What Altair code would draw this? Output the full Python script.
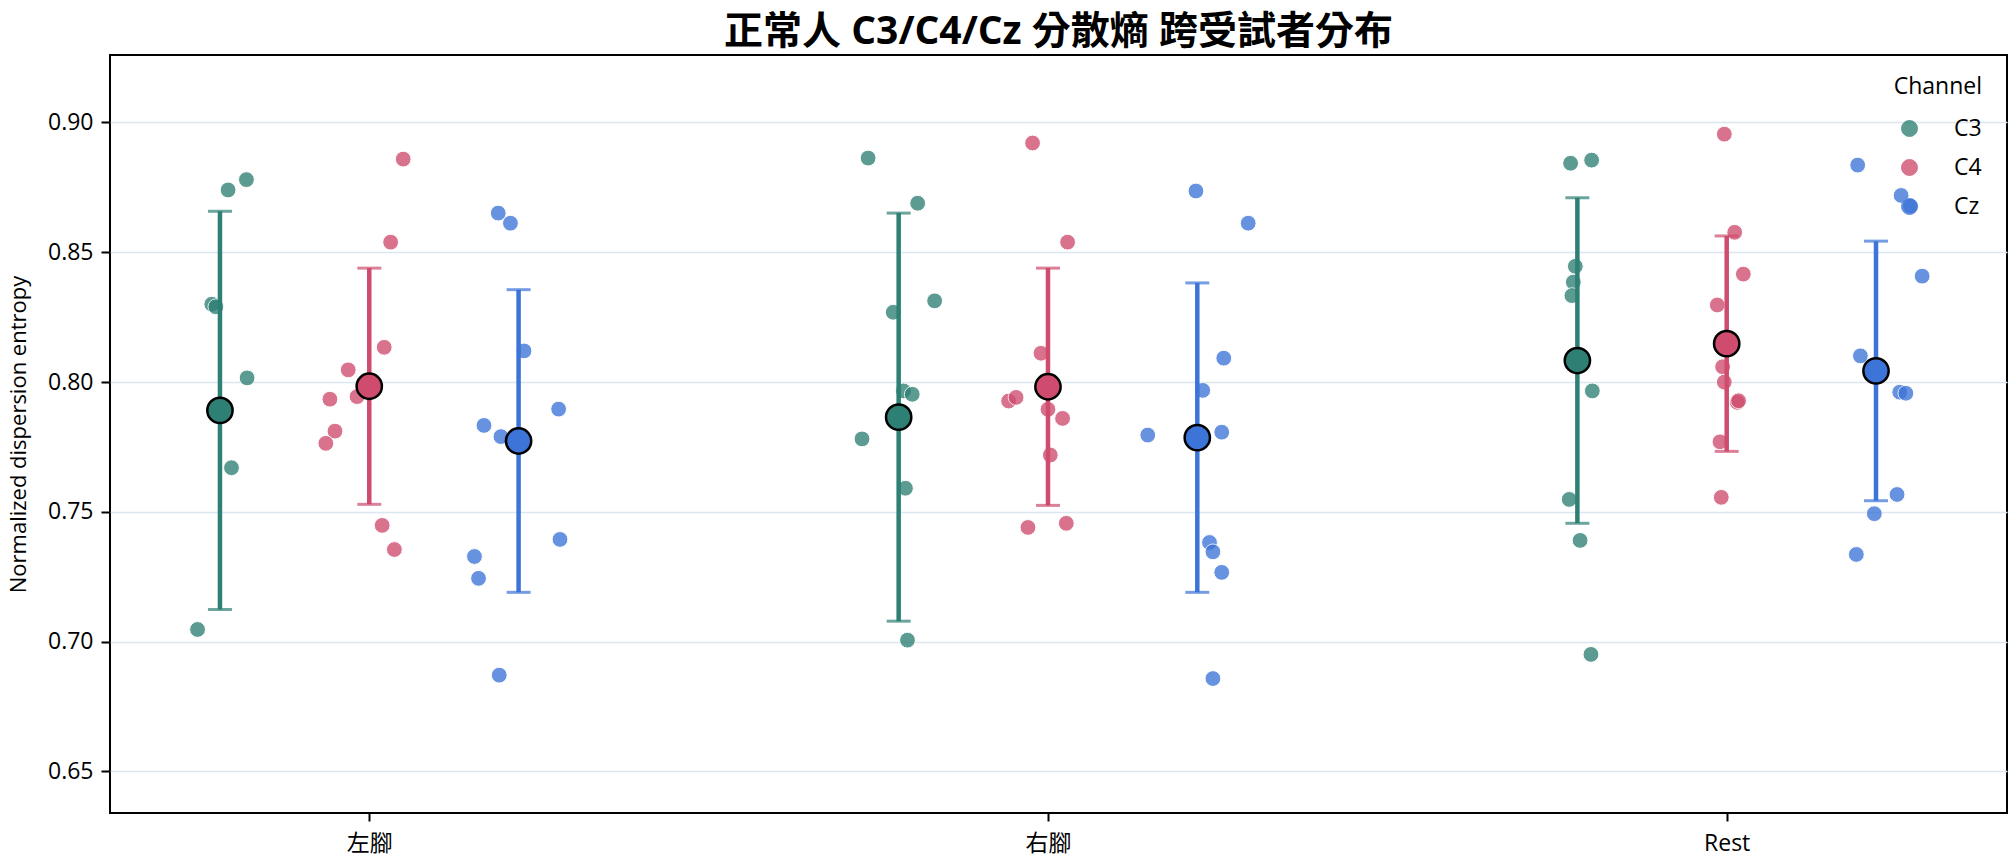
import altair as alt
import pandas as pd

# ---------------- data ----------------
conditions = ["左腳", "右腳", "Rest"]
channels = ["C3", "C4", "Cz"]
channel_offsets = [-0.22, 0.0, 0.22]
colors = ["#2E7F74", "#CF4C6E", "#3C74D8"]

# per-subject values (and their horizontal jitter around the channel position)
left_c3_values = [0.874, 0.878, 0.830, 0.829, 0.8016, 0.767, 0.7047]
left_c3_jitter = [0.012, 0.039, -0.012, -0.006, 0.040, 0.017, -0.033]
left_c4_values = [0.8859, 0.8539, 0.8134, 0.8047, 0.7934, 0.7944, 0.7811, 0.7764, 0.7448, 0.7355]
left_c4_jitter = [0.050, 0.0315, 0.022, -0.031, -0.058, -0.018, -0.0505, -0.064, 0.019, 0.037]
left_cz_values = [0.8651, 0.8612, 0.812, 0.7896, 0.7833, 0.7790, 0.7328, 0.7244, 0.7394, 0.6871]
left_cz_jitter = [-0.030, -0.012, 0.008, 0.059, -0.051, -0.026, -0.065, -0.059, 0.061, -0.0285]

right_c3_values = [0.8863, 0.8689, 0.8313, 0.8269, 0.7966, 0.7953, 0.7781, 0.7591, 0.7006]
right_c3_jitter = [-0.045, 0.028, 0.053, -0.008, 0.007, 0.020, -0.054, 0.010, 0.013]
right_c4_values = [0.8921, 0.8539, 0.8111, 0.7927, 0.7941, 0.7895, 0.7860, 0.7719, 0.7440, 0.7456]
right_c4_jitter = [-0.0227, 0.0289, -0.0103, -0.058, -0.047, 0.0, 0.0215, 0.0034, -0.0295, 0.027]
right_cz_values = [0.8736, 0.8612, 0.8092, 0.7968, 0.7796, 0.7807, 0.7382, 0.7346, 0.7267, 0.6858]
right_cz_jitter = [-0.002, 0.075, 0.039, 0.008, -0.073, 0.036, 0.018, 0.023, 0.036, 0.023]

rest_c3_values = [0.8843, 0.8855, 0.8446, 0.8385, 0.8333, 0.7966, 0.7548, 0.7390, 0.6951]
rest_c3_jitter = [-0.010, 0.021, -0.003, -0.006, -0.008, 0.022, -0.012, 0.004, 0.020]
rest_c4_values = [0.8955, 0.8577, 0.8416, 0.8297, 0.8059, 0.8000, 0.7922, 0.7928, 0.777, 0.7556]
rest_c4_jitter = [-0.0035, 0.0118, 0.0245, -0.0139, -0.006, -0.0035, 0.0157, 0.0175, -0.0099, -0.008]
rest_cz_values = [0.8836, 0.8719, 0.8678, 0.8408, 0.8101, 0.7961, 0.7957, 0.7567, 0.7493, 0.7336]
rest_cz_jitter = [-0.027, 0.037, 0.0505, 0.068, -0.023, 0.035, 0.044, 0.031, -0.0025, -0.029]

# group means and standard deviations, per channel, over conditions
mean_c3 = [0.7891, 0.7865, 0.8083]
mean_c4 = [0.7984, 0.7982, 0.8148]
mean_cz = [0.7773, 0.7786, 0.8043]
sd_c3 = [0.0767, 0.0786, 0.0627]
sd_c4 = [0.0455, 0.0457, 0.0415]
sd_cz = [0.0583, 0.0596, 0.0500]

# ---------------- tables ----------------
point_sets = [
    (0, 0, left_c3_values, left_c3_jitter), (0, 1, left_c4_values, left_c4_jitter), (0, 2, left_cz_values, left_cz_jitter),
    (1, 0, right_c3_values, right_c3_jitter), (1, 1, right_c4_values, right_c4_jitter), (1, 2, right_cz_values, right_cz_jitter),
    (2, 0, rest_c3_values, rest_c3_jitter), (2, 1, rest_c4_values, rest_c4_jitter), (2, 2, rest_cz_values, rest_cz_jitter),
]
rows = []
for ci, hi, vals, jit in point_sets:
    for v, j in zip(vals, jit):
        rows.append({"condition": conditions[ci], "channel": channels[hi],
                     "x": ci + channel_offsets[hi] + j, "value": v})
df_points = pd.DataFrame(rows)

means = [mean_c3, mean_c4, mean_cz]
sds = [sd_c3, sd_c4, sd_cz]
srows = []
for hi, ch in enumerate(channels):
    for ci, cond in enumerate(conditions):
        m, s = means[hi][ci], sds[hi][ci]
        srows.append({"condition": cond, "channel": ch, "x": ci + channel_offsets[hi],
                      "mean": m, "lo": m - s, "hi": m + s})
df_sum = pd.DataFrame(srows)

# ---------------- chart ----------------
FONT = "Open Sans, Noto Sans CJK TC, sans-serif"
label_expr = " : ".join(
    [f"datum.value == {i} ? '{c}'" for i, c in enumerate(conditions[:-1])]
) + f" : '{conditions[-1]}'"

xscale = alt.Scale(domain=[-0.382, 2.413], nice=False, zero=False)
yscale = alt.Scale(domain=[0.634, 0.926], nice=False, zero=False)
cscale = alt.Scale(domain=channels, range=colors)

x_enc = alt.X("x:Q", scale=xscale, title=None,
              axis=alt.Axis(values=[0, 1, 2], labelExpr=label_expr, grid=False, domain=False,
                            tickSize=8, tickWidth=2, tickColor="black", labelFontSize=23,
                            labelPadding=11, labelColor="black", labelFont=FONT))
y_axis = alt.Axis(values=[0.65, 0.70, 0.75, 0.80, 0.85, 0.90], format=".2f", grid=True,
                  gridColor="#DCE6EE", gridWidth=1.5, domain=False, tickSize=9, tickWidth=2,
                  tickColor="black", labelFontSize=23, labelPadding=8, labelColor="black",
                  labelFont=FONT, title="Normalized dispersion entropy", titleFontSize=22,
                  titleFontWeight="normal", titleFont=FONT, titleColor="black", titlePadding=17)

points = alt.Chart(df_points).mark_circle(size=250, opacity=0.78, stroke="white", strokeWidth=1).encode(
    x=x_enc,
    y=alt.Y("value:Q", scale=yscale, axis=y_axis),
    color=alt.Color("channel:N", scale=cscale,
                    legend=alt.Legend(title="Channel", orient="none", legendX=1766, legendY=21,
                                      titleAnchor="end", titleFontSize=23, titleFontWeight="normal",
                                      titleFont=FONT, titleColor="black", titlePadding=18,
                                      labelFontSize=23, labelFont=FONT, labelColor="black",
                                      symbolSize=256, symbolType="circle", symbolOpacity=0.78,
                                      symbolStrokeColor="white", symbolStrokeWidth=1,
                                      symbolOffset=22, labelOffset=33, rowPadding=15, padding=0)),
)

rules = alt.Chart(df_sum).mark_rule(strokeWidth=4.5).encode(
    x=alt.X("x:Q", scale=xscale),
    y=alt.Y("lo:Q", scale=yscale),
    y2="hi:Q",
    stroke=alt.Stroke("channel:N", scale=cscale, legend=None),
)
caps_lo = alt.Chart(df_sum).mark_tick(orient="horizontal", size=24, thickness=3).encode(
    x=alt.X("x:Q", scale=xscale),
    y=alt.Y("lo:Q", scale=yscale),
    fill=alt.Fill("channel:N", scale=cscale, legend=None),
)
caps_hi = alt.Chart(df_sum).mark_tick(orient="horizontal", size=24, thickness=3).encode(
    x=alt.X("x:Q", scale=xscale),
    y=alt.Y("hi:Q", scale=yscale),
    fill=alt.Fill("channel:N", scale=cscale, legend=None),
)
mean_pts = alt.Chart(df_sum).mark_point(filled=True, size=640, stroke="black", strokeWidth=2.5,
                                        opacity=1, shape="circle").encode(
    x=alt.X("x:Q", scale=xscale),
    y=alt.Y("mean:Q", scale=yscale),
    fill=alt.Fill("channel:N", scale=cscale, legend=None),
)

chart = alt.layer(points, rules, caps_lo, caps_hi, mean_pts).properties(
    width=1897, height=758,
    title=alt.Title("正常人 C3/C4/Cz 分散熵 跨受試者分布", fontSize=39, fontWeight="bold",
                    font=FONT, color="black", anchor="middle", offset=3),
    autosize=alt.AutoSizeParams(type="none"),
    padding={"left": 110, "top": 55, "right": 8, "bottom": 51},
).configure(
    background="white",
    view=alt.ViewConfig(stroke="black", strokeWidth=2),
)

chart.save("out.html", embed_options={"renderer": "svg", "actions": False})
